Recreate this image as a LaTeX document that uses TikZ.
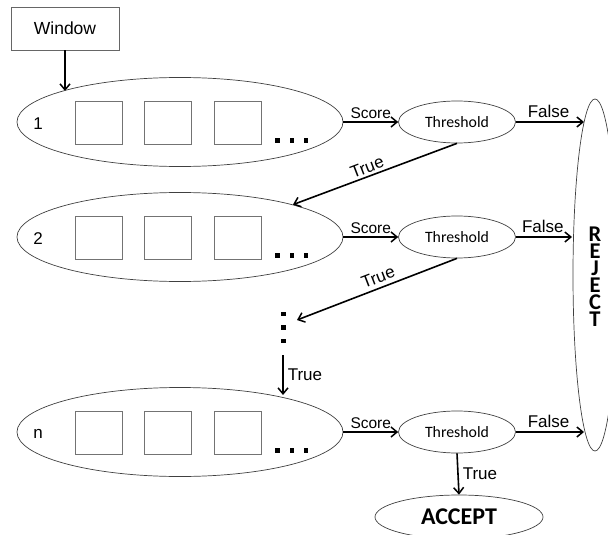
\documentclass[tikz,border=0pt]{standalone}
\usepackage{fontspec}
\setmainfont{Liberation Sans}
\newfontfamily\calfont{Carlito}
\usetikzlibrary{shapes.geometric,arrows.meta}
\begin{document}
\begin{tikzpicture}[x=1pt,y=-1pt,
  stage/.style={draw=black!75, line width=0.7pt, ellipse, minimum width=326pt, minimum height=89pt, inner sep=0pt},
  thr/.style={draw=black!75, line width=0.7pt, ellipse, minimum width=117pt, minimum height=42pt, inner sep=0pt, font=\calfont\fontsize{15.8}{18}\selectfont},
  cell/.style={draw=black!55, line width=0.8pt, minimum width=47pt, minimum height=43pt, inner sep=0pt},
  arr/.style={-{Straight Barb[length=6pt,width=10pt,line width=1.5pt]}, line width=1.6pt},
  lbl/.style={font=\fontsize{17}{20}\selectfont, inner sep=0pt},
  slbl/.style={font=\fontsize{15.5}{18}\selectfont, inner sep=0pt},
  dotsq/.style={fill=black}
]
\clip (0,0) rectangle (608,535);
\useasboundingbox (0,0) rectangle (608,535);

% window
\node[draw=black!60, line width=0.8pt, minimum width=108pt, minimum height=43pt, inner sep=0pt, font=\fontsize{17.5}{20}\selectfont] (win) at (65,28.5) {Window};
\coordinate (e1in) at (65,91);
\draw[arr] (win.south) -- (e1in);

% reject & accept
\node[draw=black!75, line width=0.7pt, ellipse, minimum width=44pt, minimum height=352pt, inner sep=0pt] (rej) at (595,275) {};
\node[align=center, font=\calfont\bfseries\fontsize{22.5}{17}\selectfont, inner sep=0pt] (rejtxt) at (595,277) {R\\E\\J\\E\\C\\T};
\coordinate (rf1) at (584,122);
\coordinate (rf2) at (572,237);
\coordinate (rf3) at (584,432);

\foreach \i/\y/\lab in {1/122/1, 2/237/2, 3/432/n} {
  \node[stage] (e\i) at (180,\y) {};
  \node[lbl] (num\i) at (38,\y+2) {\lab};
  \node[cell] (c\i a) at (98.5,\y+0.5) {};
  \node[cell] (c\i b) at (168,\y+0.5) {};
  \node[cell] (c\i c) at (238,\y+0.5) {};
  \fill[dotsq] (275,\y+16) rectangle +(4.5,4.5);
  \fill[dotsq] (289.5,\y+16) rectangle +(4.5,4.5);
  \fill[dotsq] (303.5,\y+16) rectangle +(4.5,4.5);
  \node[thr] (t\i) at (457,\y) {Threshold};
  \draw[arr] (e\i.east) -- node[slbl, above=2.5pt, pos=0.5] (sc\i) {Score} (t\i.west);
  \draw[arr] (t\i.east) -- node[lbl, above=4pt, pos=0.48] (fa\i) {False} (rf\i);
}

% true arrows
\draw[arr] (t1.south) -- (e2.16);
\node[lbl, rotate=21] (tr1) at (367,167) {True};

\coordinate (dotsin) at (297,320);
\draw[arr] (t2.south) -- (dotsin);
\node[lbl, rotate=21] (tr2) at (378,277) {True};

\fill[dotsq] (281,311.5) rectangle +(4.5,4.5);
\fill[dotsq] (281,325) rectangle +(4.5,4.5);
\fill[dotsq] (281,338.5) rectangle +(4.5,4.5);

\coordinate (vout) at (283,355);
\coordinate (nin) at (283,395);
\draw[arr] (vout) -- node[lbl, right=4pt] (tr3) {True} (nin);

\node[draw=black!75, line width=0.7pt, ellipse, minimum width=168pt, minimum height=44pt, inner sep=0pt, font=\calfont\bfseries\fontsize{24}{28}\selectfont] (acc) at (459,517) {ACCEPT};
\draw[arr] (t3.south) -- node[lbl, right=4pt] (tr4) {True} (acc.north);
\end{tikzpicture}
\end{document}
